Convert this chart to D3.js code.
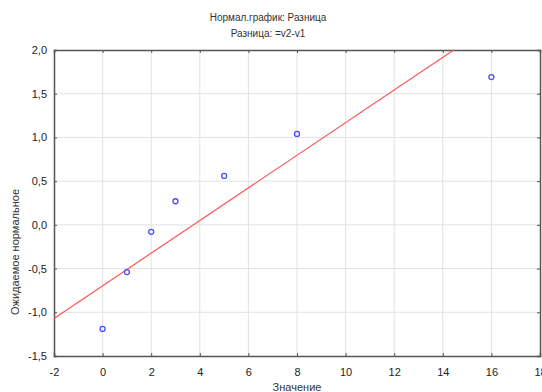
<!DOCTYPE html>
<html>
<head>
<meta charset="utf-8">
<script src="https://cdn.jsdelivr.net/npm/d3@7"></script>
<style>
  body { margin: 0; background: #fff; }
  svg { font-family: "Liberation Sans", Arial, sans-serif; }
</style>
</head>
<body>
<div id="chart"></div>
<script>
// values
var obsValues = [0, 1, 2, 3, 5, 8, 16];
var expNormal = [-1.19, -0.54, -0.08, 0.27, 0.56, 1.04, 1.69];
// fitted line, two points on it
var fitX = [-2, 14.45];
var fitY = [-1.07, 2.0];
var xTicks = [-2, 0, 2, 4, 6, 8, 10, 12, 14, 16, 18];
var yTicks = [-1.5, -1.0, -0.5, 0.0, 0.5, 1.0, 1.5, 2.0];

var width = 542;
var height = 392;
var plotLeft = 54, plotRight = 540, plotTop = 50, plotBottom = 356;

var svg = d3.select("#chart")
  .append("svg")
  .attr("width", width)
  .attr("height", height);

var xScale = d3.scaleLinear().domain([-2, 18]).range([plotLeft, plotRight]);
var yScale = d3.scaleLinear().domain([-1.5, 2.0]).range([plotBottom, plotTop]);

var fmt = function(d) { return d3.format(".1f")(d).replace(".", ",").replace("−", "-"); };

// grid lines
svg.append("g")
  .selectAll("line")
  .data(xTicks.slice(1, -1))
  .enter().append("line")
  .attr("x1", function(d) { return xScale(d); })
  .attr("x2", function(d) { return xScale(d); })
  .attr("y1", plotTop).attr("y2", plotBottom)
  .attr("stroke", "#e2e2e2").attr("stroke-width", 1);
svg.append("g")
  .selectAll("line")
  .data(yTicks.slice(1, -1))
  .enter().append("line")
  .attr("x1", plotLeft).attr("x2", plotRight)
  .attr("y1", function(d) { return yScale(d); })
  .attr("y2", function(d) { return yScale(d); })
  .attr("stroke", "#e2e2e2").attr("stroke-width", 1);

// axes (ticks pointing inward)
var xAxis = d3.axisBottom(xScale).tickValues(xTicks).tickSize(-3).tickFormat(d3.format("d"));
var yAxis = d3.axisLeft(yScale).tickValues(yTicks).tickSize(-3).tickFormat(fmt);

var gx = svg.append("g")
  .attr("transform", "translate(0," + plotBottom + ")")
  .call(xAxis);
var gy = svg.append("g")
  .attr("transform", "translate(" + plotLeft + ",0)")
  .call(yAxis);
svg.append("g")
  .attr("transform", "translate(0," + plotTop + ")")
  .call(d3.axisTop(xScale).tickValues(xTicks).tickSize(-3).tickFormat(""));
svg.append("g")
  .attr("transform", "translate(" + plotRight + ",0)")
  .call(d3.axisRight(yScale).tickValues(yTicks).tickSize(-3).tickFormat(""));

svg.selectAll(".domain").attr("stroke", "#555").attr("stroke-width", 1.5);
svg.selectAll(".tick line").attr("stroke", "#555");
gx.selectAll("text")
  .attr("font-size", 11).attr("fill", "#222").attr("dy", "1.55em")
  .text(function(d) { return String(d).replace("−", "-"); });
gy.selectAll("text")
  .attr("font-size", 11).attr("fill", "#222").attr("x", -7);

// fitted line
svg.append("line")
  .attr("x1", xScale(fitX[0])).attr("y1", yScale(fitY[0]))
  .attr("x2", xScale(fitX[1])).attr("y2", yScale(fitY[1]))
  .attr("stroke", "#ff5555").attr("stroke-width", 1.2);

// points
svg.append("g")
  .selectAll("circle")
  .data(obsValues)
  .enter().append("circle")
  .attr("cx", function(d) { return xScale(d); })
  .attr("cy", function(d, i) { return yScale(expNormal[i]); })
  .attr("r", 2.5)
  .attr("fill", "none")
  .attr("stroke", "#4b4bff")
  .attr("stroke-width", 1.3);

// titles
svg.append("text")
  .attr("x", 268).attr("y", 21)
  .attr("text-anchor", "middle")
  .attr("font-size", 10).attr("fill", "#333")
  .text("Нормал.график: Разница");
svg.append("text")
  .attr("x", 268).attr("y", 37)
  .attr("text-anchor", "middle")
  .attr("font-size", 10).attr("fill", "#333")
  .text("Разница: =v2-v1");

// axis labels
svg.append("text")
  .attr("x", 297).attr("y", 391)
  .attr("text-anchor", "middle")
  .attr("font-size", 11).attr("fill", "#333")
  .text("Значение");
svg.append("text")
  .attr("transform", "translate(19,252)rotate(-90)")
  .attr("text-anchor", "middle")
  .attr("font-size", 11).attr("fill", "#333")
  .text("Ожидаемое нормальное");
</script>
</body>
</html>
